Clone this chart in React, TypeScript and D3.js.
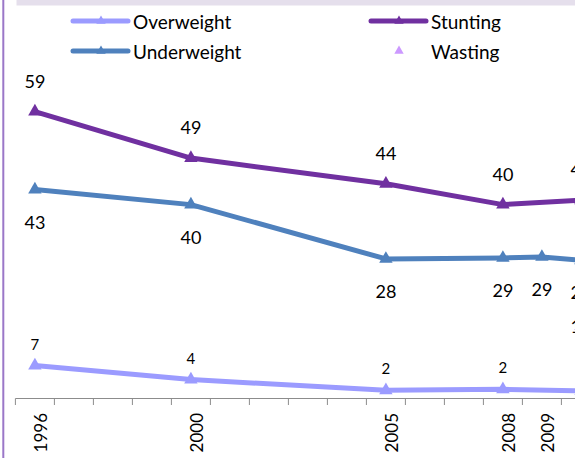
import React from "react";
import * as d3 from "d3";

const years = [1996, 1997, 1998, 1999, 2000, 2001, 2002, 2003, 2004, 2005, 2006, 2007, 2008, 2009, 2010, 2011];
const labelYears = [1996, 2000, 2005, 2008, 2009, 2010];

const overweightYears = [1996, 2000, 2005, 2008, 2010];
const overweightValues = [6.8, 3.9, 1.7, 1.9, 1.6];
const overweightLabels = ["7", "4", "2", "2", "2"];

const stuntingYears = [1996, 2000, 2005, 2008, 2010];
const stuntingValues = [59.2, 49.6, 44.3, 40.0, 40.9];
const stuntingLabels = ["59", "49", "44", "40", "41"];

const underweightYears = [1996, 2000, 2005, 2008, 2009, 2010];
const underweightValues = [43.1, 40.0, 28.8, 29.0, 29.2, 28.5];
const underweightLabels = ["43", "40", "28", "29", "29", "28"];

const wastingYears = [2010];
const wastingValues = [15];
const wastingLabels = ["15"];

const W = 575;
const H = 458;
const FONT = "Lato, 'Open Sans', sans-serif";

type Series = {
  name: string;
  years: number[];
  values: number[];
  labels: string[];
  color: string;
  line: boolean;
  labelPos: "above" | "below" | "center";
  labelSize: number;
  labelOffset: number;
};

const series: Series[] = [
  { name: "Overweight", years: overweightYears, values: overweightValues, labels: overweightLabels, color: "#9B9BFF", line: true, labelPos: "above", labelSize: 15, labelOffset: 22 },
  { name: "Stunting", years: stuntingYears, values: stuntingValues, labels: stuntingLabels, color: "#7030A0", line: true, labelPos: "above", labelSize: 18, labelOffset: 31 },
  { name: "Underweight", years: underweightYears, values: underweightValues, labels: underweightLabels, color: "#4F81BD", line: true, labelPos: "below", labelSize: 18, labelOffset: 32 },
  { name: "Wasting", years: wastingYears, values: wastingValues, labels: wastingLabels, color: "#CC99FF", line: false, labelPos: "center", labelSize: 18, labelOffset: 0 },
];

const legendItems = [
  { s: series[0], x: 73, y: 21 },
  { s: series[1], x: 371, y: 21 },
  { s: series[2], x: 73, y: 51 },
  { s: series[3], x: 371, y: 51 },
];

export default function App() {
  const x = d3
    .scaleBand<number>()
    .domain(years)
    .range([15.4, 15.4 + 39 * years.length])
    .padding(0);
  const cx = (yr: number) => (x(yr) as number) + x.bandwidth() / 2;
  const y = d3.scaleLinear().domain([0, 70]).range([398.5, 398.5 - 70 * 4.847]);

  const tri = d3.symbol().type(d3.symbolTriangle).size(78)();
  const triSmall = d3.symbol().type(d3.symbolTriangle).size(38)();

  const lineGen = d3
    .line<[number, number]>()
    .x((d) => cx(d[0]))
    .y((d) => y(d[1]));

  const axisY = y(0);
  const tickXs = years.map((yr) => x(yr) as number).concat([(x(years[years.length - 1]) as number) + x.bandwidth()]);

  return (
    <svg
      width={W}
      height={H}
      viewBox={`0 0 ${W} ${H}`}
      style={{ position: "fixed", left: 0, top: 0, background: "#fff" }}
      fontFamily={FONT}
    >
      <rect x={0} y={0} width={W} height={H} fill="#ffffff" />
      {/* top band */}
      <rect x={16.5} y={0} width={W - 16.5} height={5.5} fill="#E5DFEC" />
      {/* left frame line */}
      <line x1={3.3} x2={3.3} y1={0} y2={H} stroke="#9B77C8" strokeWidth={2} />

      {/* legend */}
      {legendItems.map(({ s, x: lx, y: ly }) => (
        <g key={s.name}>
          {s.line && (
            <line x1={lx} x2={lx + 55} y1={ly} y2={ly} stroke={s.color} strokeWidth={5} strokeLinecap="round" />
          )}
          <path d={triSmall as string} transform={`translate(${lx + 28},${ly})`} fill={s.color} />
          <text x={lx + 60} y={ly} dominantBaseline="central" fontSize={19} fill="#000">
            {s.name}
          </text>
        </g>
      ))}

      {/* x axis */}
      <line x1={15.4} x2={W} y1={axisY} y2={axisY} stroke="#8C8C8C" strokeWidth={1} />
      {tickXs.map((tx, i) => (
        <line key={i} x1={tx} x2={tx} y1={axisY} y2={axisY + 6.5} stroke="#8C8C8C" strokeWidth={1} />
      ))}
      {labelYears.map((yr) => (
        <text
          key={yr}
          transform={`translate(${cx(yr) + 6},${axisY + 14.5}) rotate(-90)`}
          textAnchor="end"
          dominantBaseline="central"
          fontSize={17}
          fill="#000"
        >
          {yr}
        </text>
      ))}

      {/* lines */}
      {series.map((s) =>
        s.line ? (
          <path
            key={s.name + "-line"}
            d={lineGen(s.years.map((yr, i) => [yr, s.values[i]] as [number, number])) as string}
            fill="none"
            stroke={s.color}
            strokeWidth={5}
            strokeLinejoin="round"
          />
        ) : null
      )}
      {/* markers */}
      {series.map((s) =>
        s.years.map((yr, i) => (
          <path
            key={s.name + "-m-" + yr}
            d={tri as string}
            transform={`translate(${cx(yr)},${y(s.values[i])})`}
            fill={s.color}
          />
        ))
      )}
      {/* data labels */}
      {series.map((s) =>
        s.years.map((yr, i) => {
          const py = y(s.values[i]);
          const ly = s.labelPos === "above" ? py - s.labelOffset : s.labelPos === "below" ? py + s.labelOffset : py;
          return (
            <text
              key={s.name + "-l-" + yr}
              x={cx(yr)}
              y={ly}
              textAnchor="middle"
              dominantBaseline="central"
              fontSize={s.labelSize}
              fill="#000"
            >
              {s.labels[i]}
            </text>
          );
        })
      )}
    </svg>
  );
}
